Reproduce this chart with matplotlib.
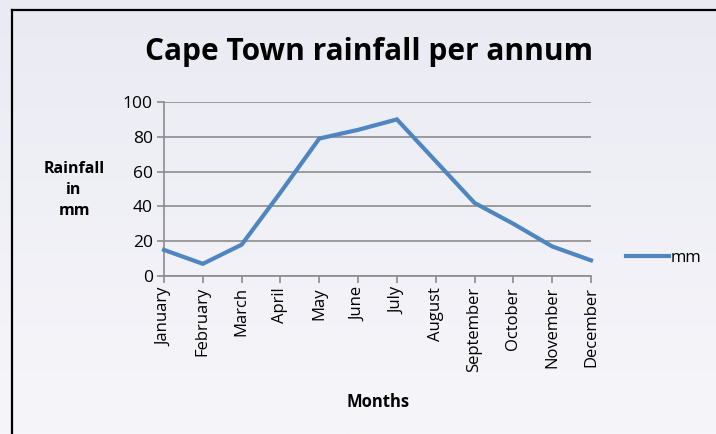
import matplotlib.pyplot as plt
import numpy as np
from matplotlib.colors import LinearSegmentedColormap

months = ["January", "February", "March", "April", "May", "June", "July",
          "August", "September", "October", "November", "December"]
rainfall = [15, 7, 18, 48, 79, 84, 90, 66, 42, 30, 17, 9]
y_ticks = [0, 20, 40, 60, 80, 100]

plt.rcParams['font.family'] = ['Open Sans', 'DejaVu Sans']

fig = plt.figure(figsize=(7.16, 4.34), dpi=100)

# soft vertical background gradient, darker at the top
bg = fig.add_axes([0, 0, 1, 1], zorder=-10)
grad = np.linspace(0, 1, 256).reshape(-1, 1)
cmap = LinearSegmentedColormap.from_list("bg", ["#eaeaf3", "#f6f6fa"])
bg.imshow(grad, aspect="auto", cmap=cmap, extent=[0, 1, 0, 1], origin="upper")
bg.set_xlim(0, 1)
bg.set_ylim(0, 1)
bg.axis("off")
# chart border (runs off the right and bottom edges)
bg.plot([11.5 / 716, 11.5 / 716], [0, 1 - 10 / 434], color="black", lw=1.6)
bg.plot([11.5 / 716, 1], [1 - 10 / 434, 1 - 10 / 434], color="black", lw=1.6)

ax = fig.add_axes([164 / 716, 1 - 276 / 434, 427 / 716, 174 / 434])
ax.patch.set_alpha(0)
x = np.arange(len(months))
ax.plot(x, rainfall, color="#4f86c0", lw=3, solid_joinstyle="miter", label="mm",
        clip_on=False, zorder=3)
ax.set_xlim(0, len(months) - 1)
ax.set_ylim(0, 100)
ax.set_yticks(y_ticks)
ax.set_xticks(x)
ax.set_xticklabels(months, rotation=90, fontsize=12)
ax.tick_params(axis="y", labelsize=12.5, length=5, color="#8c8c8c", width=1.2, pad=3)
ax.tick_params(axis="x", length=5, color="#8c8c8c", width=1.2, pad=3)
ax.grid(axis="y", color="#8c8c8c", lw=1.2)
ax.set_axisbelow(True)
for s in ["top", "right"]:
    ax.spines[s].set_visible(False)
for s in ["left", "bottom"]:
    ax.spines[s].set_color("#8c8c8c")
    ax.spines[s].set_linewidth(1.2)

fig.text(369 / 716, 1 - 52 / 434, "Cape Town rainfall per annum", ha="center",
         va="center", fontsize=21.5, fontweight="bold")
fig.text(74 / 716, 1 - 190 / 434, "Rainfall\nin\nmm", ha="center", va="center",
         fontsize=11.5, fontweight="bold", linespacing=1.45)
fig.text(378 / 716, 1 - 402 / 434, "Months", ha="center", va="center",
         fontsize=12, fontweight="bold")

ax.legend(loc="center left", bbox_to_anchor=(626 / 716, 1 - 258 / 434),
          bbox_transform=fig.transFigure, frameon=False, fontsize=12,
          handlelength=2.6, handletextpad=0.05, borderpad=0, borderaxespad=0)

fig.savefig("out.png", dpi=100)
